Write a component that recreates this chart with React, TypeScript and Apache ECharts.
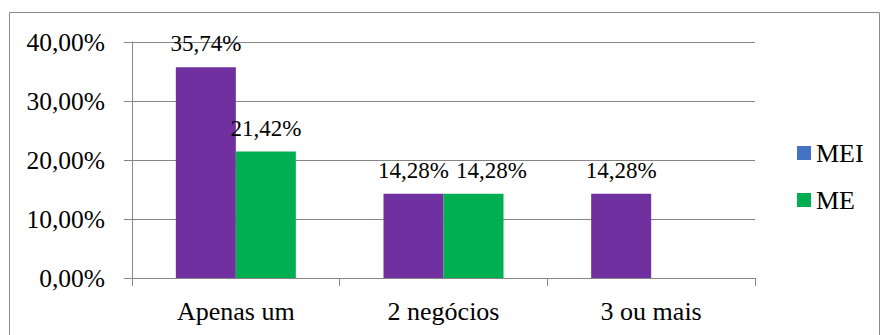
import React, { useEffect, useRef } from "react";
import * as echarts from "echarts";

const categories = ["Apenas um", "2 negócios", "3 ou mais"];
const meiValues = [35.74, 14.28, 14.28];
const meValues = [21.42, 14.28, 0];
const yTicks = [0, 10, 20, 30, 40];

const FONT = "Liberation Serif";
const fmt = (v: number) => v.toFixed(2).replace(".", ",") + "%";

export default function App() {
  const ref = useRef<HTMLDivElement>(null);
  useEffect(() => {
    if (!ref.current) return;
    const chart = echarts.init(ref.current, undefined, { renderer: "svg" });
    const labelOpt = {
      show: true,
      position: "top",
      distance: 12,
      fontFamily: FONT,
      fontSize: 23,
      color: "#000",
      formatter: (p: any) => (p.value ? fmt(p.value) : ""),
    };
    // Excel nudges the second label right to avoid overlapping when both equal
    const meData = meValues.map((v, i) =>
      i === 1 ? { value: v, label: { offset: [18, 0] } } : v
    );
    chart.setOption({
      animation: false,
      backgroundColor: "#fff",
      textStyle: { fontFamily: FONT },
      graphic: [
        {
          type: "rect",
          shape: { x: 9.5, y: 12.5, width: 870, height: 340 },
          style: { fill: "none", stroke: "#8c8c8c", lineWidth: 1 },
          silent: true,
        },
      ],
      grid: { left: 132, right: 129, top: 42, bottom: 57, containLabel: false },
      legend: {
        orient: "vertical",
        left: 792,
        top: 135,
        padding: 5,
        itemWidth: 14,
        itemHeight: 14,
        itemGap: 21,
        icon: "rect",
        textStyle: { fontFamily: FONT, fontSize: 26, color: "#000" },
        data: [
          { name: "MEI", itemStyle: { color: "#4472C4" } },
          { name: "ME", itemStyle: { color: "#00B050" } },
        ],
      },
      xAxis: {
        type: "category",
        data: categories,
        axisLine: { lineStyle: { color: "#868686", width: 1 } },
        axisTick: { show: true, alignWithLabel: false, length: 8, lineStyle: { color: "#868686" } },
        axisLabel: { fontFamily: FONT, fontSize: 26, color: "#000", margin: 20 },
      },
      yAxis: {
        type: "value",
        min: yTicks[0],
        max: yTicks[yTicks.length - 1],
        interval: 10,
        axisLine: { show: true, lineStyle: { color: "#868686", width: 1 } },
        axisTick: { show: true, length: 8, lineStyle: { color: "#868686" } },
        splitLine: { lineStyle: { color: "#868686", width: 1 } },
        axisLabel: {
          fontFamily: FONT,
          fontSize: 25.5,
          color: "#000",
          margin: 27,
          formatter: (v: number) => fmt(v),
        },
      },
      series: [
        {
          name: "MEI",
          type: "bar",
          data: meiValues,
          barWidth: 60,
          barGap: "0%",
          itemStyle: { color: "#7030A0" },
          label: labelOpt,
        },
        {
          name: "ME",
          type: "bar",
          data: meData,
          barWidth: 60,
          barGap: "0%",
          itemStyle: { color: "#00B050" },
          label: labelOpt,
        },
      ],
    });
    return () => chart.dispose();
  }, []);
  return (
    <div
      ref={ref}
      style={{ position: "fixed", left: 0, top: 0, width: 884, height: 335 }}
    />
  );
}
